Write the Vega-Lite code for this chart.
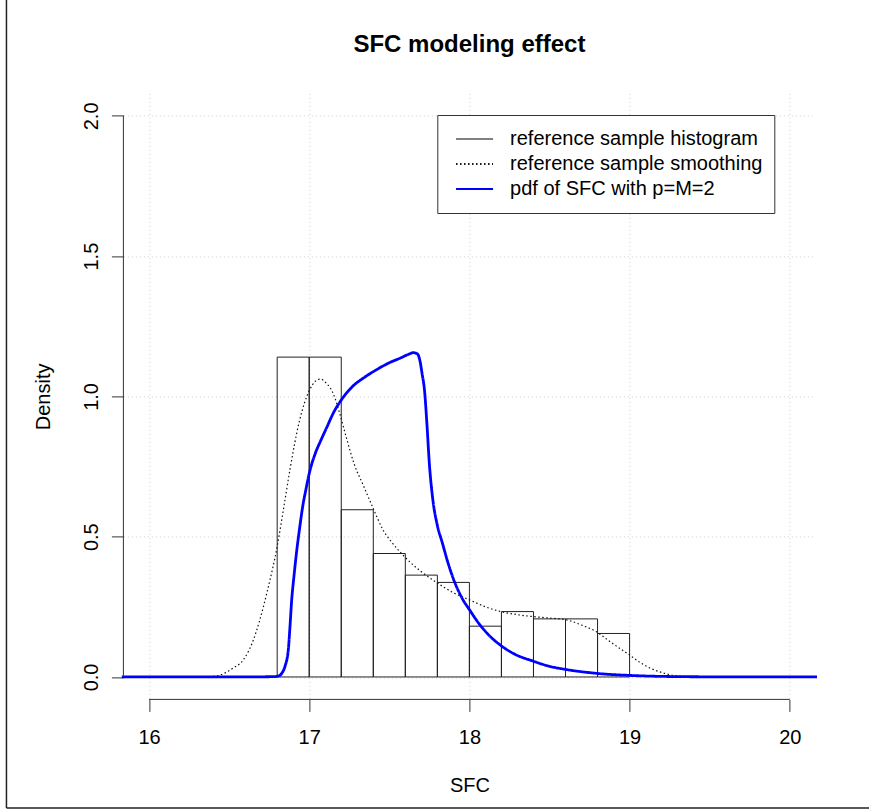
{
  "$schema": "https://vega.github.io/schema/vega-lite/v6.json",
  "width": 692,
  "height": 606,
  "autosize": {"type": "none"},
  "padding": {"left": 123.4, "top": 93.4, "right": 53.6, "bottom": 109.6},
  "background": "white",
  "title": {"text": "SFC modeling effect", "fontSize": 24, "font": "Liberation Sans", "fontWeight": "bold", "anchor": "middle", "baseline": "alphabetic", "offset": -79, "color": "black"},
  "config": {
    "font": "Liberation Sans",
    "view": {"stroke": null},
    "axis": {
      "domain": false,
      "tickSize": 12,
      "tickColor": "#333333",
      "tickWidth": 1,
      "labelFontSize": 20,
      "labelColor": "black",
      "labelFont": "Liberation Sans",
      "labelFlush": false,
      "labelOverlap": false,
      "titleFontSize": 20,
      "titleFontWeight": "normal",
      "titleColor": "black",
      "titleFont": "Liberation Sans",
      "grid": true,
      "gridColor": "#cfcfcf",
      "gridDash": [1, 3],
      "gridWidth": 1
    }
  },
  "datasets": {
    "hist": [
      {"lo": 16.8, "hi": 17.0, "density": 1.140},
      {"lo": 17.0, "hi": 17.2, "density": 1.140},
      {"lo": 17.2, "hi": 17.4, "density": 0.596},
      {"lo": 17.4, "hi": 17.6, "density": 0.440},
      {"lo": 17.6, "hi": 17.8, "density": 0.363},
      {"lo": 17.8, "hi": 18.0, "density": 0.337},
      {"lo": 18.0, "hi": 18.2, "density": 0.181},
      {"lo": 18.2, "hi": 18.4, "density": 0.233},
      {"lo": 18.4, "hi": 18.6, "density": 0.207},
      {"lo": 18.6, "hi": 18.8, "density": 0.207},
      {"lo": 18.8, "hi": 19.0, "density": 0.155}
    ],
    "smooth": [
      {"x": 16.30, "y": 0.0},
      {"x": 16.40, "y": 0.002},
      {"x": 16.44, "y": 0.006},
      {"x": 16.52, "y": 0.03},
      {"x": 16.59, "y": 0.062},
      {"x": 16.65, "y": 0.13},
      {"x": 16.69, "y": 0.20},
      {"x": 16.74, "y": 0.31},
      {"x": 16.80, "y": 0.465},
      {"x": 16.84, "y": 0.60},
      {"x": 16.88, "y": 0.74},
      {"x": 16.94, "y": 0.915},
      {"x": 17.00, "y": 1.02},
      {"x": 17.04, "y": 1.055},
      {"x": 17.07, "y": 1.062},
      {"x": 17.11, "y": 1.045},
      {"x": 17.15, "y": 1.01},
      {"x": 17.19, "y": 0.94},
      {"x": 17.23, "y": 0.857},
      {"x": 17.28, "y": 0.76},
      {"x": 17.34, "y": 0.68},
      {"x": 17.40, "y": 0.60},
      {"x": 17.46, "y": 0.525},
      {"x": 17.53, "y": 0.47},
      {"x": 17.61, "y": 0.42},
      {"x": 17.70, "y": 0.375},
      {"x": 17.80, "y": 0.335},
      {"x": 17.90, "y": 0.30},
      {"x": 18.00, "y": 0.275},
      {"x": 18.10, "y": 0.25},
      {"x": 18.19, "y": 0.234},
      {"x": 18.30, "y": 0.222},
      {"x": 18.40, "y": 0.215},
      {"x": 18.50, "y": 0.21},
      {"x": 18.61, "y": 0.203},
      {"x": 18.70, "y": 0.185},
      {"x": 18.79, "y": 0.162},
      {"x": 18.88, "y": 0.125},
      {"x": 19.00, "y": 0.078},
      {"x": 19.07, "y": 0.05},
      {"x": 19.13, "y": 0.031},
      {"x": 19.20, "y": 0.016},
      {"x": 19.27, "y": 0.006},
      {"x": 19.35, "y": 0.002},
      {"x": 19.50, "y": 0.0}
    ],
    "pdf": [
      {"x": 15.83, "y": 0.0},
      {"x": 16.50, "y": 0.0},
      {"x": 16.78, "y": 0.001},
      {"x": 16.81, "y": 0.004},
      {"x": 16.83, "y": 0.014},
      {"x": 16.85, "y": 0.04},
      {"x": 16.87, "y": 0.10},
      {"x": 16.88, "y": 0.18},
      {"x": 16.89, "y": 0.27},
      {"x": 16.905, "y": 0.36},
      {"x": 16.92, "y": 0.44},
      {"x": 16.94, "y": 0.53},
      {"x": 16.96, "y": 0.61},
      {"x": 16.98, "y": 0.67},
      {"x": 17.00, "y": 0.725},
      {"x": 17.04, "y": 0.80},
      {"x": 17.07, "y": 0.84},
      {"x": 17.11, "y": 0.89},
      {"x": 17.15, "y": 0.94},
      {"x": 17.21, "y": 0.995},
      {"x": 17.27, "y": 1.035},
      {"x": 17.35, "y": 1.07},
      {"x": 17.42, "y": 1.095},
      {"x": 17.50, "y": 1.12},
      {"x": 17.57, "y": 1.137},
      {"x": 17.62, "y": 1.150},
      {"x": 17.65, "y": 1.156},
      {"x": 17.675, "y": 1.152},
      {"x": 17.69, "y": 1.13},
      {"x": 17.705, "y": 1.08},
      {"x": 17.72, "y": 1.02},
      {"x": 17.735, "y": 0.90},
      {"x": 17.75, "y": 0.76},
      {"x": 17.77, "y": 0.64},
      {"x": 17.80, "y": 0.54},
      {"x": 17.83, "y": 0.48},
      {"x": 17.87, "y": 0.40},
      {"x": 17.91, "y": 0.335},
      {"x": 17.96, "y": 0.275},
      {"x": 18.00, "y": 0.24},
      {"x": 18.06, "y": 0.19},
      {"x": 18.12, "y": 0.15},
      {"x": 18.19, "y": 0.115},
      {"x": 18.27, "y": 0.085},
      {"x": 18.40, "y": 0.056},
      {"x": 18.50, "y": 0.038},
      {"x": 18.61, "y": 0.026},
      {"x": 18.81, "y": 0.012},
      {"x": 19.02, "y": 0.005},
      {"x": 19.20, "y": 0.002},
      {"x": 19.50, "y": 0.0005},
      {"x": 20.17, "y": 0.0}
    ]
  },
  "layer": [
    {
      "data": {"name": "hist"},
      "mark": {"type": "rect", "fill": "white", "fillOpacity": 0, "stroke": "#222222", "strokeWidth": 1},
      "encoding": {
        "x": {"field": "lo", "type": "quantitative", "title": "SFC", "scale": {"domain": [15.84, 20.16], "nice": false, "zero": false},
              "axis": {"title": "SFC", "values": [16, 17, 18, 19, 20], "format": "d", "labelPadding": 16, "titleY": 92.3, "titleBaseline": "alphabetic"}},
        "x2": {"field": "hi"},
        "y": {"field": "density", "type": "quantitative", "title": "Density", "scale": {"domain": [-0.08, 2.08], "nice": false, "zero": false},
              "axis": {"title": "Density", "values": [0, 0.5, 1, 1.5, 2], "format": ".1f", "labelAngle": -90, "labelAlign": "center", "labelBaseline": "bottom", "labelPadding": 10, "titleX": -74, "titleAngle": -90, "titleBaseline": "alphabetic"}},
        "y2": {"datum": 0}
      }
    },
    {
      "data": {"name": "smooth"},
      "mark": {"type": "line", "strokeWidth": 1.2, "interpolate": "monotone"},
      "encoding": {
        "x": {"field": "x", "type": "quantitative", "title": "SFC"},
        "y": {"field": "y", "type": "quantitative", "title": "Density"},
        "color": {"datum": "reference sample smoothing", "type": "nominal",
                  "scale": {"domain": ["reference sample histogram", "reference sample smoothing", "pdf of SFC with p=M=2"], "range": ["#808080", "#111111", "#0000ff"]},
                  "legend": {"title": null, "orient": "none", "legendX": 313.9, "legendY": 21.6, "strokeColor": "#333333", "fillColor": "white", "padding": 11.75, "symbolType": "stroke", "symbolSize": 1369, "symbolStrokeWidth": 2, "symbolOffset": 6, "labelOffset": 16, "labelFontSize": 20, "labelColor": "black", "labelFont": "Liberation Sans", "rowPadding": 0, "clipHeight": 24.5, "labelLimit": 400}},
        "strokeDash": {"datum": "reference sample smoothing", "type": "nominal",
                  "scale": {"domain": ["reference sample histogram", "reference sample smoothing", "pdf of SFC with p=M=2"], "range": [[1, 0], [1.5, 2.5], [1, 0]]},
                  "legend": {"title": null, "orient": "none", "legendX": 313.9, "legendY": 21.6, "strokeColor": "#333333", "fillColor": "white", "padding": 11.75, "symbolType": "stroke", "symbolSize": 1369, "symbolStrokeWidth": 2, "symbolOffset": 6, "labelOffset": 16, "labelFontSize": 20, "labelColor": "black", "labelFont": "Liberation Sans", "rowPadding": 0, "clipHeight": 24.5, "labelLimit": 400}}
      }
    },
    {
      "data": {"name": "pdf"},
      "mark": {"type": "line", "strokeWidth": 2.8, "interpolate": "monotone"},
      "encoding": {
        "x": {"field": "x", "type": "quantitative", "title": "SFC"},
        "y": {"field": "y", "type": "quantitative", "title": "Density"},
        "color": {"datum": "pdf of SFC with p=M=2", "type": "nominal"},
        "strokeDash": {"datum": "pdf of SFC with p=M=2", "type": "nominal"}
      }
    },
    {
      "data": {"values": [{}]},
      "mark": {"type": "rule", "color": "#333333", "strokeWidth": 1},
      "encoding": {"x": {"datum": 16}, "x2": {"datum": 20}, "y": {"datum": -0.08}}
    },
    {
      "data": {"values": [{}]},
      "mark": {"type": "rule", "color": "#333333", "strokeWidth": 1},
      "encoding": {"x": {"datum": 15.84}, "y": {"datum": 0}, "y2": {"datum": 2}}
    },
    {
      "data": {"values": [{}]},
      "mark": {"type": "rule", "color": "#222222", "strokeWidth": 1.5},
      "encoding": {"x": {"datum": 15.11}, "y": {"datum": -0.467}, "y2": {"datum": 2.42}}
    },
    {
      "data": {"values": [{}]},
      "mark": {"type": "rule", "color": "#222222", "strokeWidth": 1.5},
      "encoding": {"x": {"datum": 15.11}, "x2": {"datum": 20.6}, "y": {"datum": -0.467}}
    }
  ]
}
